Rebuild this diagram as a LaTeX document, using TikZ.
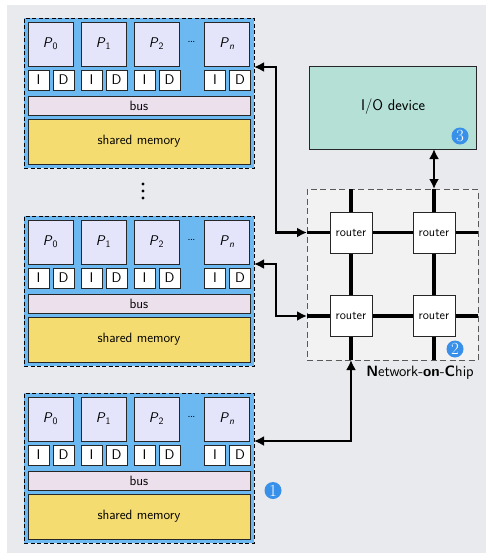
\documentclass[tikz,border=0pt]{standalone}
\usetikzlibrary{arrows.meta,calc}
\definecolor{canvas}{RGB}{233,234,237}
\definecolor{clusterblue}{RGB}{108,184,240}
\definecolor{corefill}{RGB}{228,228,250}
\definecolor{busfill}{RGB}{236,224,236}
\definecolor{memfill}{RGB}{245,220,112}
\definecolor{iofill}{RGB}{180,224,213}
\definecolor{nocfill}{RGB}{242,242,243}
\definecolor{badgeblue}{RGB}{56,144,232}
\newcommand\setfs[1]{\fontsize{#1}{#1}\selectfont}
\tikzset{
  x=1pt, y=-1pt,
  box/.style={draw=black!85, line width=0.7pt, inner sep=0pt, outer sep=0pt, font=\sffamily},
  cluster/.style={draw=black, fill=clusterblue, dash pattern=on 4pt off 2.5pt, line width=0.8pt,
                  minimum width=230pt, minimum height=150pt, inner sep=0pt, outer sep=0pt},
  corebox/.style={box, fill=corefill, minimum width=45pt, minimum height=44pt, font=\sffamily\setfs{14}},
  cachebox/.style={box, fill=white, minimum width=21pt, minimum height=20pt, font=\sffamily\setfs{14}},
  busbox/.style={box, fill=busfill, minimum width=222pt, minimum height=19pt, font=\sffamily\setfs{13.5}},
  membox/.style={box, fill=memfill, minimum width=222pt, minimum height=45pt, font=\sffamily\setfs{13.5}},
  routerbox/.style={box, fill=white, minimum width=42pt, minimum height=41pt, font=\sffamily\setfs{12.5}},
  link/.style={line width=3.2pt},
  biarrow/.style={line width=2.7pt, {Latex[length=10pt,width=10pt]}-{Latex[length=10pt,width=10pt]}},
  badge/.style={circle, fill=badgeblue, text=white, inner sep=0pt, minimum size=17pt, font=\rmfamily\setfs{17}},
}
\begin{document}
\begin{tikzpicture}
\useasboundingbox (0,0) rectangle (487,554);
\fill[canvas] (7,5) rectangle (486,553);

% Network-on-Chip: dashed frame, mesh links and routers
\node[draw=black!65, fill=nocfill, dash pattern=on 6pt off 3.5pt, line width=0.8pt,
      minimum width=171pt, minimum height=171pt, inner sep=0pt, outer sep=0pt] (noc) at (392.5,274.5) {};
\coordinate (r11c) at (351,232.5);
\coordinate (r22c) at (434,316);
\draw[link] (noc.west |- r11c) -- (noc.east |- r11c);
\draw[link] (noc.west |- r22c) -- (noc.east |- r22c);
\draw[link] (noc.north -| r11c) -- (noc.south -| r11c);
\draw[link] (noc.north -| r22c) -- (noc.south -| r22c);
\node[routerbox] (r11) at (r11c) {router};
\node[routerbox] (r12) at (r11c -| r22c) {router};
\node[routerbox] (r21) at (r22c -| r11c) {router};
\node[routerbox] (r22) at (r22c) {router};
\node[badge] (b2) at (455,349) {2};
\node[font=\sffamily\setfs{15}] (noclabel) at (420,373)
  {\textbf{N}etwork-\textbf{on}-\textbf{C}hip};

% I/O device
\node[box, fill=iofill, minimum width=167pt, minimum height=83pt, font=\sffamily\setfs{15.5}] (io) at (392.5,107.5) {};
\node[font=\sffamily\setfs{15.5}] (iolabel) at (393,107) {I/O device};
\node[badge] (b3) at (460,136) {3};
\draw[biarrow] (io.south -| r12) -- (noc.north -| r12);

% Shared-memory clusters
\foreach \c/\t in {c1/18, c2/216, c3/393}{
  \node[cluster] (\c) at (139,\t+75) {};
  \node[corebox] (\c-p0) at (50.5,\t+26) {\textsl{P}\textsubscript{0}};
  \node[corebox] (\c-p1) at (103.5,\t+26) {\textsl{P}\textsubscript{1}};
  \node[corebox] (\c-p2) at (156.5,\t+26) {\textsl{P}\textsubscript{2}};
  \node[corebox] (\c-pn) at (227,\t+26) {\textsl{P}\textsubscript{\textsl{n}}};
  \node[font=\sffamily\bfseries\setfs{8}] (\c-dots) at (191.5,\t+24) {...};
  \foreach \k/\x in {0/28, 1/81, 2/134, n/204.5}{
    \node[cachebox] (\c-i\k) at (\x+10.5,\t+62) {I};
    \node[cachebox] (\c-d\k) at (\x+35.5,\t+62) {D};
  }
  \node[busbox] (\c-bus) at (139,\t+87.5) {bus};
  \node[membox] (\c-mem) at (139,\t+123.5) {shared memory};
}
\node[badge] (b1) at (273,490.5) {1};

% more clusters between the first two
\foreach \y in {184,191,198}
  \fill (143,\y) circle (1.6pt);

% cluster links to the NoC
\draw[biarrow] ([yshift=-49pt]c1.north east) -- ++(22,0) |- (noc.west |- r11);
\draw[biarrow] ([yshift=-48pt]c2.north east) -- ++(22,0) |- (noc.west |- r21);
\draw[biarrow] ([yshift=-48pt]c3.north east) -| (noc.south -| r21);
\end{tikzpicture}
\end{document}
